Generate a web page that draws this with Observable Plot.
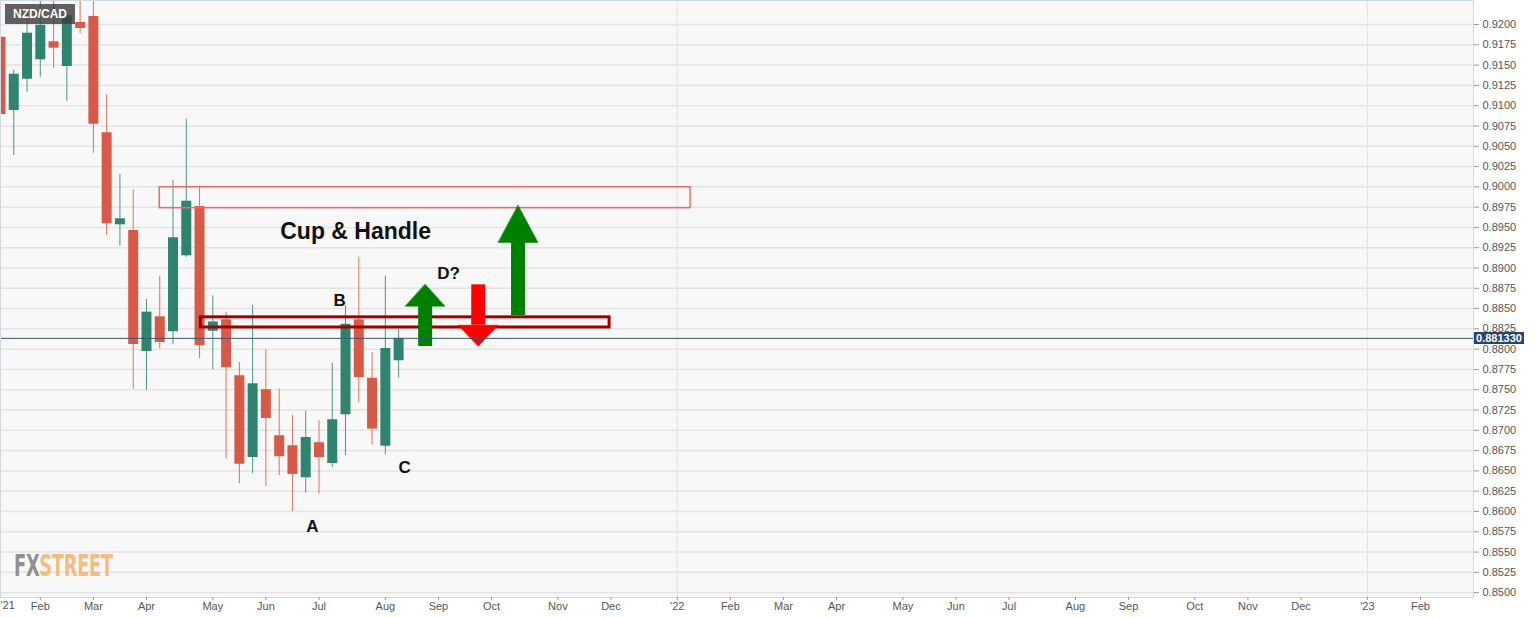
<!DOCTYPE html>
<html>
<head>
<meta charset="utf-8">
<script src="https://cdn.jsdelivr.net/npm/d3@7"></script>
<script src="https://cdn.jsdelivr.net/npm/@observablehq/plot@0.6"></script>
<style>
  html, body { margin: 0; padding: 0; background: #ffffff; }
  #wrap { position: relative; width: 1536px; height: 618px; overflow: hidden; font-family: Arial, "Liberation Sans", sans-serif; }
  #sym { position: absolute; left: 5px; top: 4px; width: 70px; height: 20px; background: rgba(62,62,62,0.82); color: #fff; font-weight: bold; font-size: 12px; line-height: 20px; text-align: center; }
  #price { position: absolute; left: 1474px; width: 50px; height: 12px; background: #27466b; color: #fff; font-weight: bold; font-size: 11px; line-height: 12px; text-align: center; }
  #wm { position: absolute; left: 14px; top: 547px; font-family: "DejaVu Sans Condensed", "DejaVu Sans", sans-serif; font-weight: bold; font-size: 31px; transform: scaleX(0.64); transform-origin: 0 0; white-space: nowrap; letter-spacing: -0.5px; }
  #wm .fx { color: rgba(125,125,125,0.85); }
  #wm .st { color: rgba(242,172,95,0.8); }
</style>
</head>
<body>
<div id="wrap"></div>
<script>
// ---- data (weekly NZD/CAD candles, week index 0 = first week of Feb 2021) ----
const weekIdx = [-3,-2,-1,0,1,2,3,4,5,6,7,8,9,10,11,12,13,14,15,16,17,18,19,20,21,22,23,24,25,26,27];
const opens  = [0.91844,0.90940,0.91326,0.91565,0.91787,0.91483,0.92025,0.92099,0.90666,0.89532,0.89462,0.87971,0.88399,0.88214,0.89150,0.89758,0.88221,0.88362,0.87672,0.86665,0.87500,0.86933,0.86810,0.86415,0.86847,0.86591,0.87191,0.88362,0.87642,0.86805,0.87857];
const highs  = [0.91889,0.91437,0.92209,0.92357,0.92320,0.92172,0.92357,0.92419,0.91134,0.90152,0.89964,0.88612,0.88899,0.90078,0.90830,0.90008,0.88655,0.88452,0.87836,0.88538,0.87992,0.87507,0.87183,0.87236,0.87118,0.87827,0.88534,0.89133,0.87959,0.88899,0.88239];
const lows   = [0.90842,0.90386,0.91166,0.91351,0.91454,0.91055,0.91885,0.90414,0.89400,0.89269,0.87507,0.87491,0.88005,0.88054,0.89133,0.87881,0.87747,0.86649,0.86341,0.86465,0.86308,0.86440,0.86000,0.86226,0.86213,0.86542,0.86690,0.87339,0.86817,0.86699,0.87647];
const closes = [0.90891,0.91388,0.91893,0.91991,0.91708,0.92111,0.91951,0.90772,0.89545,0.89606,0.88058,0.88456,0.88082,0.89372,0.89823,0.88042,0.88335,0.87771,0.86583,0.87573,0.87146,0.86674,0.86456,0.86912,0.86665,0.87130,0.88308,0.87651,0.87014,0.88008,0.88133];
const lastPrice = 0.881330;

// x axis: week index of each month tick and its label
const monthTicks  = [0,4,8,13,17,21,26,30,34,39,43,48,52,56,60,65,69,73,78,82,87,91,95,100,104];
const monthLabels = ["Feb","Mar","Apr","May","Jun","Jul","Aug","Sep","Oct","Nov","Dec","'22","Feb","Mar","Apr","May","Jun","Jul","Aug","Sep","Oct","Nov","Dec","'23","Feb"];
const yearTicks = [48, 100];
const yTicks = [0.8500,0.8525,0.8550,0.8575,0.8600,0.8625,0.8650,0.8675,0.8700,0.8725,0.8750,0.8775,0.8800,0.8825,0.8850,0.8875,0.8900,0.8925,0.8950,0.8975,0.9000,0.9025,0.9050,0.9075,0.9100,0.9125,0.9150,0.9175,0.9200];

// annotations
const zoneNames = ["target", "neckline"];
const zoneX1 = [9, 12.1];
const zoneX2 = [49, 42.9];
const zoneLo = [0.89737, 0.88267];
const zoneHi = [0.89995, 0.88392];
const arrowX    = [29, 33, 36];
const arrowBase = [0.88033, 0.88792, 0.88411];
const arrowNeck = [0.88529, 0.88295, 0.89314];
const arrowTip  = [0.88800, 0.88037, 0.89774];
const arrowDir  = ["up", "down", "up"];
const labelText = ["Cup & Handle", "B", "D?", "C", "A"];
const labelX    = [23.76, 22.55, 30.77, 27.45, 20.5];
const labelY    = [0.8945, 0.8860, 0.8893, 0.8654, 0.8582];

// ---- build tables ----
const UP = "#2f8470", DOWN = "#d75a48";
const candles = weekIdx.map((w, k) => ({w, o: opens[k], h: highs[k], l: lows[k], c: closes[k], col: closes[k] >= opens[k] ? UP : DOWN}));
const zones = zoneNames.map((n, k) => ({n, x1: zoneX1[k], x2: zoneX2[k], y1: zoneLo[k], y2: zoneHi[k]}));
const arrows = arrowX.map((x, k) => ({k, x, base: arrowBase[k], neck: arrowNeck[k], tip: arrowTip[k], col: arrowDir[k] === "up" ? "#008000" : "#ff0000"}));
const HW = 1.5; // arrow head half-width in weeks
const heads = arrows.flatMap(a => [
  {k: a.k, x: a.x - HW, y: a.neck, col: a.col},
  {k: a.k, x: a.x + HW, y: a.neck, col: a.col},
  {k: a.k, x: a.x, y: a.tip, col: a.col}
]);
const labels = labelText.map((t, k) => ({t, x: labelX[k], y: labelY[k], big: k === 0}));

const chart = Plot.plot({
  width: 1536,
  height: 618,
  marginLeft: 0,
  marginRight: 63,
  marginTop: 0,
  marginBottom: 21,
  style: {fontFamily: "Arial, 'Liberation Sans', sans-serif", fontSize: "11px", background: "#ffffff", color: "#555"},
  x: {domain: [-3, 108]},
  y: {domain: [0.84940, 0.92296]},
  color: {type: "identity"},
  marks: [
    Plot.frame({fill: "#f8f8f8", stroke: null}),
    Plot.gridY(yTicks, {stroke: "#e4e4e4", strokeOpacity: 1, strokeWidth: 1.5}),
    Plot.ruleX(yearTicks, {stroke: "#e2e2e2", strokeWidth: 1}),
    Plot.ruleX(candles, {x: "w", y1: "l", y2: "h", stroke: "col", strokeWidth: 1, strokeOpacity: 0.85}),
    Plot.ruleX(candles, {x: "w", y1: "o", y2: "c", stroke: "col", strokeWidth: 10}),
    Plot.rect(zones.filter(z => z.n === "target"), {x1: "x1", x2: "x2", y1: "y1", y2: "y2", fill: "none", stroke: "#ef6b6b", strokeWidth: 1.5}),
    Plot.rect(zones.filter(z => z.n === "neckline"), {x1: "x1", x2: "x2", y1: "y1", y2: "y2", fill: "none", stroke: "#a00000", strokeWidth: 3}),
    Plot.ruleX(arrows, {x: "x", y1: "base", y2: "neck", stroke: "col", strokeWidth: 14}),
    Plot.line(heads, {x: "x", y: "y", z: "k", fill: "col", stroke: "col", strokeWidth: 0.5, curve: "linear-closed"}),
    Plot.ruleY([lastPrice], {stroke: "#3a5676", strokeWidth: 1}),
    Plot.text(labels.filter(d => d.big), {x: "x", y: "y", text: "t", fontSize: 23, fontWeight: "bold", fill: "#111", fontFamily: "'Liberation Sans', Arial, sans-serif"}),
    Plot.text(labels.filter(d => !d.big), {x: "x", y: "y", text: "t", fontSize: 17, fontWeight: "bold", fill: "#111", fontFamily: "'Liberation Sans', Arial, sans-serif"}),
    Plot.frame({stroke: "#d3d9e4", strokeWidth: 1}),
    Plot.axisY({anchor: "right", ticks: yTicks, tickFormat: d3.format(".4f"), tickSize: 5, tickPadding: 4, label: null, fill: "#555", stroke: "#999"}),
    Plot.axisX({ticks: monthTicks, tickFormat: d => monthLabels[monthTicks.indexOf(d)], tickSize: 3, tickPadding: 2, label: null, fill: "#555", stroke: "#999"}),
    Plot.text(["'21"], {x: -3, frameAnchor: "bottom", dy: 11, textAnchor: "start", fill: "#555", fontSize: 11})
  ]
});

const wrap = document.getElementById("wrap");
wrap.appendChild(chart);

const sym = document.createElement("div");
sym.id = "sym";
sym.textContent = "NZD/CAD";
wrap.appendChild(sym);

const price = document.createElement("div");
price.id = "price";
price.textContent = lastPrice.toFixed(6);
price.style.top = (chart.scale("y").apply(lastPrice) - 6) + "px";
wrap.appendChild(price);

const wm = document.createElement("div");
wm.id = "wm";
wm.innerHTML = '<span class="fx">FX</span><span class="st">STREET</span>';
wrap.appendChild(wm);
</script>
</body>
</html>
